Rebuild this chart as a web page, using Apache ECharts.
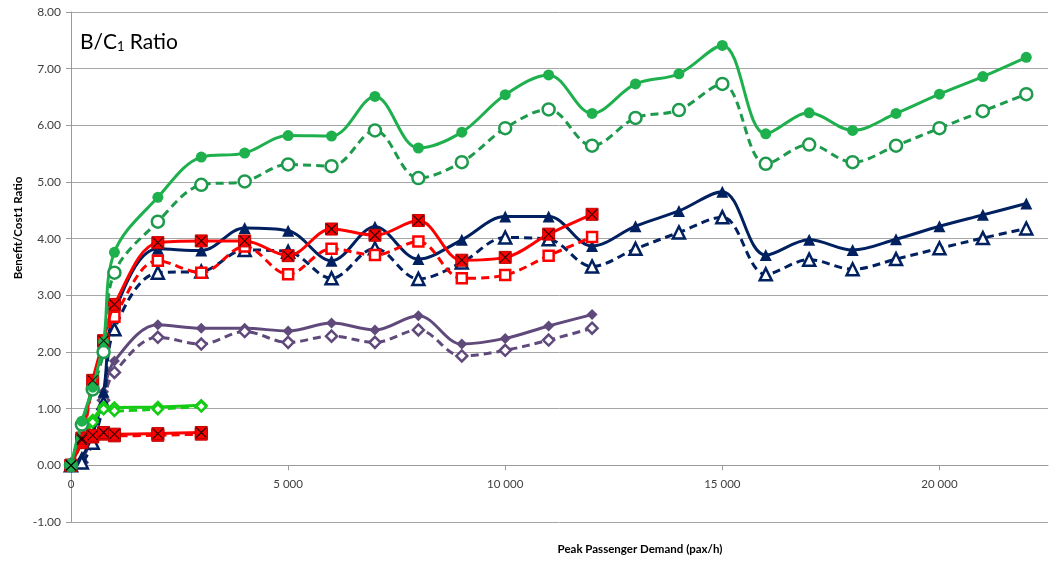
<!DOCTYPE html>
<html>
<head>
<meta charset="utf-8">
<script src="https://cdn.jsdelivr.net/npm/echarts@6/dist/echarts.min.js"></script>
<style>
  html, body { margin: 0; padding: 0; background: #fff; }
  #chart { width: 1050px; height: 562px; }
</style>
</head>
<body>
<div id="chart"></div>
<script>
// Peak passenger demand (pax/h) at which each case was evaluated
const demandLong = [0, 250, 500, 750, 1000, 2000, 3000, 4000, 5000, 6000, 7000, 8000, 9000, 10000,
  11000, 12000, 13000, 14000, 15000, 16000, 17000, 18000, 19000, 20000, 21000, 22000];
const demandMid = [0, 250, 500, 750, 1000, 2000, 3000, 4000, 5000, 6000, 7000, 8000, 9000, 10000, 11000, 12000];
const demandShort = [0, 250, 500, 750, 1000, 2000, 3000];

// Benefit / cost ratios
const greenHigh = [0, 0.78, 1.38, 2.18, 3.76, 4.73, 5.44, 5.51, 5.82, 5.81, 6.51, 5.60, 5.88, 6.54,
  6.89, 6.21, 6.73, 6.91, 7.41, 5.85, 6.22, 5.91, 6.21, 6.55, 6.86, 7.20];
const greenLow = [0, 0.72, 1.34, 2.00, 3.40, 4.30, 4.95, 5.01, 5.31, 5.28, 5.91, 5.07, 5.35, 5.95,
  6.28, 5.64, 6.13, 6.27, 6.73, 5.32, 5.66, 5.35, 5.64, 5.95, 6.25, 6.55];
const navyHigh = [0, 0.15, 0.55, 1.30, 2.70, 3.82, 3.79, 4.19, 4.14, 3.61, 4.21, 3.64, 3.98, 4.39,
  4.39, 3.87, 4.22, 4.49, 4.83, 3.71, 3.98, 3.80, 3.99, 4.22, 4.42, 4.62];
const navyLow = [0, 0.05, 0.40, 1.10, 2.40, 3.40, 3.42, 3.80, 3.77, 3.30, 3.83, 3.29, 3.58, 4.02,
  3.99, 3.51, 3.82, 4.11, 4.38, 3.37, 3.63, 3.46, 3.64, 3.83, 4.01, 4.18];
const redHigh = [0, 0.48, 1.50, 2.20, 2.84, 3.93, 3.96, 3.96, 3.70, 4.17, 4.06, 4.32, 3.62, 3.67, 4.08, 4.43];
const redLow = [0, 0.45, 1.40, 2.10, 2.62, 3.61, 3.40, 3.86, 3.37, 3.82, 3.71, 3.95, 3.30, 3.36, 3.70, 4.03];
const purpleHigh = [0, 0.10, 0.55, 1.30, 1.84, 2.48, 2.42, 2.42, 2.37, 2.51, 2.39, 2.64, 2.14, 2.24, 2.46, 2.66];
const purpleLow = [0, 0.05, 0.45, 1.15, 1.64, 2.26, 2.14, 2.36, 2.17, 2.28, 2.17, 2.39, 1.93, 2.03, 2.21, 2.42];
const limeHigh = [0, 0.45, 0.80, 1.03, 1.02, 1.03, 1.06];
const limeLow = [0, 0.40, 0.76, 0.99, 0.96, 0.99, 1.04];
const redFlatHigh = [0, 0.45, 0.53, 0.58, 0.55, 0.56, 0.58];
const redFlatLow = [0, 0.40, 0.50, 0.55, 0.52, 0.53, 0.55];

const yTicks = { min: -1, max: 8, step: 1 };
const xTicks = { min: 0, max: 22500, step: 5000 };

const pairs = (xs, ys) => ys.map((v, i) => [xs[i], v]);
const crossPath = 'path://M0,0L10,10M10,0L0,10';

// grid geometry, used to lift the category axis up to the zero line
const gridTop = 12, gridBottom = 40, chartHeight = 562;
const plotHeight = chartHeight - gridTop - gridBottom;
const zeroLift = plotHeight * (0 - yTicks.min) / (yTicks.max - yTicks.min);

function line(name, xs, ys, opt) {
  return {
    name, type: 'line', data: pairs(xs, ys), smooth: opt.smooth ?? 0.35,
    symbol: opt.symbol, symbolSize: opt.size,
    lineStyle: { color: opt.color, width: opt.width || 3, type: opt.dashed ? [8, 5] : 'solid' },
    itemStyle: {
      color: opt.hollow ? '#ffffff' : opt.color,
      borderColor: opt.border || opt.color,
      borderWidth: opt.hollow ? 2.5 : (opt.borderWidth || 0)
    },
    z: opt.z || 2, animation: false
  };
}
function crosses(name, xs, ys) {
  return {
    name, type: 'scatter', data: pairs(xs, ys), symbol: crossPath, symbolSize: 10,
    itemStyle: { color: 'transparent', borderColor: '#000', borderWidth: 1.2 },
    z: 6, animation: false, silent: true
  };
}

const chart = echarts.init(document.getElementById('chart'));
chart.setOption({
  backgroundColor: '#ffffff',
  animation: false,
  grid: { left: 71, right: 2, top: gridTop, bottom: gridBottom, containLabel: false },
  xAxis: {
    type: 'value', min: xTicks.min, max: xTicks.max, interval: xTicks.step,
    offset: -zeroLift,
    axisLine: { onZero: false, lineStyle: { color: '#9a9a9a', width: 1 } },
    axisTick: { show: true, length: 5, lineStyle: { color: '#9a9a9a' } },
    splitLine: { show: false },
    axisLabel: {
      showMaxLabel: false, color: '#404040', fontFamily: 'Liberation Sans Narrow, Lato, sans-serif', fontSize: 11.5, margin: 13,
      formatter: v => v === 0 ? '0' : String(v).replace(/\B(?=(\d{3})+(?!\d))/g, ' ')
    }
  },
  yAxis: {
    type: 'value', min: yTicks.min, max: yTicks.max, interval: yTicks.step,
    axisLine: { show: true, lineStyle: { color: '#9a9a9a', width: 1 } },
    axisTick: { show: true, length: 5, lineStyle: { color: '#9a9a9a' } },
    splitLine: { show: true, lineStyle: { color: '#a6a6a6', width: 1 } },
    axisLabel: {
      color: '#404040', fontFamily: 'Lato, sans-serif', fontSize: 12, margin: 10,
      formatter: v => v.toFixed(2)
    }
  },
  graphic: [
    {
      type: 'text', left: 80, top: 32,
      style: {
        text: '{a|B/C}{s|1}{a| Ratio}',
        rich: {
          a: { fontFamily: 'Lato, sans-serif', fontSize: 21, fill: '#000' },
          s: { fontFamily: 'Lato, sans-serif', fontSize: 13, fill: '#000', padding: [9, 0, 0, 0] }
        }
      }
    },
    {
      type: 'text', x: 18, y: 228, rotation: Math.PI / 2,
      style: {
        text: 'Benefit/Cost1 Ratio', fontFamily: 'Lato, sans-serif', fontSize: 11.5, fontWeight: 'bold',
        fill: '#000', textAlign: 'center', textVerticalAlign: 'middle'
      }
    },
    {
      type: 'text', x: 640, y: 549,
      style: {
        text: 'Peak Passenger Demand (pax/h)', fontFamily: 'Lato, sans-serif', fontSize: 11.5, fontWeight: 'bold',
        fill: '#000', textAlign: 'center', textVerticalAlign: 'middle'
      }
    }
  ],
  series: [
    line('Purple B/C (high)', demandMid, purpleHigh, { color: '#604a7b', symbol: 'diamond', size: 11 }),
    line('Purple B/C (low)', demandMid, purpleLow, { color: '#604a7b', symbol: 'diamond', size: 11, hollow: true, dashed: true }),
    line('Navy B/C (high)', demandLong, navyHigh, { color: '#002060', symbol: 'triangle', size: 12 }),
    line('Navy B/C (low)', demandLong, navyLow, { color: '#002060', symbol: 'triangle', size: 12, hollow: true, dashed: true }),
    line('Red B/C (low)', demandMid, redLow, { color: '#ff0000', symbol: 'rect', size: 10, hollow: true, dashed: true, z: 3 }),
    line('Red B/C (high)', demandMid, redHigh, { color: '#ff0000', symbol: 'rect', size: 12, border: '#c00000', borderWidth: 1, z: 4 }),
    crosses('Red B/C (high) marks', demandMid, redHigh),
    line('Lime B/C (high)', demandShort, limeHigh, { color: '#14cc14', symbol: 'diamond', size: 10, hollow: true, smooth: 0.2 }),
    line('Lime B/C (low)', demandShort, limeLow, { color: '#14cc14', symbol: 'diamond', size: 10, hollow: true, dashed: true, smooth: 0.2 }),
    line('Red flat (low)', demandShort, redFlatLow, { color: '#ff0000', symbol: 'rect', size: 12, border: '#c00000', borderWidth: 1, dashed: true, smooth: 0.2 }),
    line('Red flat (high)', demandShort, redFlatHigh, { color: '#ff0000', symbol: 'rect', size: 12, border: '#c00000', borderWidth: 1, smooth: 0.2 }),
    crosses('Red flat marks', demandShort, redFlatHigh),
    line('Green B/C (low)', demandLong, greenLow, { color: '#1e9a4c', symbol: 'circle', size: 12, hollow: true, dashed: true, z: 5 }),
    line('Green B/C (high)', demandLong, greenHigh, { color: '#1fb04e', symbol: 'circle', size: 11, z: 5 })
  ]
});
</script>
</body>
</html>
